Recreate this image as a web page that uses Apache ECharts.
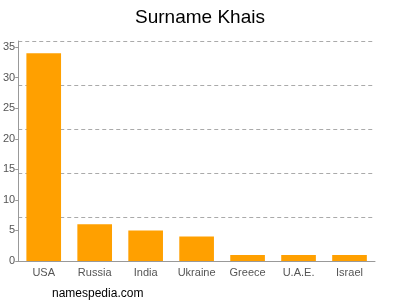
<!DOCTYPE html>
<html><head><meta charset="utf-8">
<script src="https://cdn.jsdelivr.net/npm/echarts@6/dist/echarts.min.js"></script>
<style>html,body{margin:0;padding:0;background:#fff}#c{width:400px;height:300px}</style>
</head><body><div id="c"></div>
<script>
var categories = ["USA", "Russia", "India", "Ukraine", "Greece", "U.A.E.", "Israel"];
var values = [34, 6, 5, 4, 1, 1, 1];
var yTicks = [0, 5, 10, 15, 20, 25, 30, 35];
var chart = echarts.init(document.getElementById('c'), null, {renderer: 'canvas'});
chart.setOption({
  animation: false,
  title: [{text: 'Surname Khais', left: 'center', top: 3, textStyle: {fontFamily: 'Liberation Sans, Arial', fontSize: 19, fontWeight: 'normal', color: '#000'}},
          {text: 'namespedia.com', left: 47, top: 283, textStyle: {fontFamily: 'Liberation Sans, Arial', fontSize: 12, fontWeight: 'normal', color: '#000'}}],
  grid: {left: 17, right: 25, top: 41, bottom: 39},
  xAxis: {type: 'category', data: categories, axisLine: {lineStyle: {color: '#999'}}, axisTick: {show: false},
    axisLabel: {color: '#555', fontSize: 11, fontFamily: 'Liberation Sans, Arial', margin: 6}},
  yAxis: [{type: 'value', min: 0, max: 36, interval: 5, axisLine: {show: true, lineStyle: {color: '#999'}},
    axisTick: {show: true, length: 3, lineStyle: {color: '#999'}}, splitLine: {show: false},
    axisLabel: {color: '#555', fontSize: 11, fontFamily: 'Liberation Sans, Arial', margin: 3, showMaxLabel: false,
      formatter: function(v){ return yTicks.indexOf(v) >= 0 ? String(v) : ''; }}},
    {type: 'value', min: 0, max: 36, interval: 7.2, position: 'left', axisLine: {show: false}, axisTick: {show: false}, axisLabel: {show: false},
    splitLine: {show: true, lineStyle: {color: '#aaa', type: [4, 3], width: 1}}}],
  series: [{type: 'bar', data: values, yAxisIndex: 0, barWidth: '68%', itemStyle: {color: '#FFA000'}}]
});
</script></body></html>
